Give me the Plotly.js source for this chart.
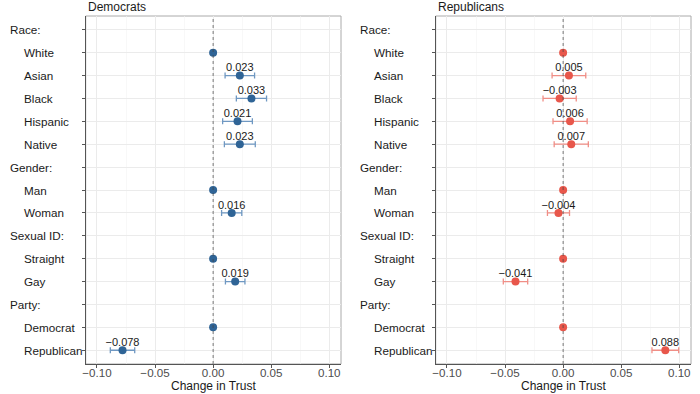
<!DOCTYPE html>
<html>
<head>
<meta charset="utf-8">
<script src="https://cdn.plot.ly/plotly-3.0.1.min.js"></script>
<style>html,body{margin:0;padding:0;background:#fff;}#chart{width:700px;height:394px;}</style>
</head>
<body>
<div id="chart"></div>
<script>
// ---- data ----
const rows = ["Race:", "White", "Asian", "Black", "Hispanic", "Native",
              "Gender:", "Man", "Woman",
              "Sexual ID:", "Straight", "Gay",
              "Party:", "Democrat", "Republican"];
const isHeader = [true, false, false, false, false, false,
                  true, false, false,
                  true, false, false,
                  true, false, false];
const demEst = [null, 0, 0.023, 0.033, 0.021, 0.023, null, 0, 0.016, null, 0, 0.019, null, 0, -0.078];
const demErr = [null, null, 0.0127, 0.013, 0.0128, 0.0133, null, null, 0.0087, null, null, 0.0084, null, null, 0.0105];
const repEst = [null, 0, 0.005, -0.003, 0.006, 0.007, null, 0, -0.004, null, 0, -0.041, null, 0, 0.088];
const repErr = [null, null, 0.0145, 0.0143, 0.0147, 0.0147, null, null, 0.0095, null, null, 0.0105, null, null, 0.0115];
const panelTitles = ["Democrats", "Republicans"];
const xTickVals = [-0.10, -0.05, 0.00, 0.05, 0.10];
const xTitle = "Change in Trust";

// ---- styling ----
const FONT = "Liberation Sans, Arial, sans-serif";
const demPoint = "#2f6496", demBar = "#6f98c2";
const repPoint = "#e8574b", repBar = "#f08e86";
const W = 700, H = 394;
const yIdx = rows.map((r, i) => i);

function fmt(v) {
  const s = Math.abs(v).toFixed(3);
  return (v < 0 ? "\u2212" : "") + s;
}

function pointTrace(est, err, xa, ya, pc, bc) {
  const xs = [], ys = [], es = [], tx = [];
  est.forEach((v, i) => {
    if (v === null) return;
    xs.push(v); ys.push(i);
    es.push(err[i] === null ? 0 : err[i]);
    tx.push(err[i] === null ? "" : fmt(v));
  });
  return [{
    type: "scatter", mode: "markers", x: xs, y: ys, xaxis: xa, yaxis: ya,
    marker: {color: pc, size: 8},
    error_x: {type: "data", array: es, visible: true, color: bc, thickness: 1.3, width: 3},
    hoverinfo: "skip", showlegend: false
  }, {
    type: "scatter", mode: "text", x: xs, y: ys.map(y => y - 0.31), xaxis: xa, yaxis: ya,
    text: tx, textposition: "middle center",
    textfont: {family: FONT, size: 11, color: "#1a1a1a"},
    hoverinfo: "skip", showlegend: false
  }];
}

const data = [
  ...pointTrace(demEst, demErr, "x", "y", demPoint, demBar),
  ...pointTrace(repEst, repErr, "x2", "y2", repPoint, repBar)
];

const dom1 = [85.7 / W, 341 / W];
const dom2 = [435.7 / W, 691 / W];
const ydom = [1 - 364 / H, 1 - 16 / H];

function xAxis(dom, anchor) {
  return {
    domain: dom, anchor: anchor, range: [-0.1097, 0.1101],
    tickvals: xTickVals, tickformat: ".2f",
    showgrid: true, gridcolor: "#ebebeb", gridwidth: 1,
    minor: {dtick: 0.025, tick0: 0, showgrid: true, gridcolor: "#f4f4f4", gridwidth: 0.6},
    zeroline: false, showline: true, linecolor: "#555", linewidth: 1, mirror: false,
    ticks: "outside", ticklen: 3, tickcolor: "#555", tickwidth: 1,
    ticklabelstandoff: -5,
    tickfont: {family: FONT, size: 11.6, color: "#4d4d4d"},
    automargin: false, fixedrange: true
  };
}
function yAxis(anchor) {
  return {
    domain: ydom, anchor: anchor, range: [14.6, -0.6],
    tickvals: yIdx, showticklabels: false,
    showgrid: true, gridcolor: "#ebebeb", gridwidth: 1,
    zeroline: false, showline: true, linecolor: "#555", linewidth: 1,
    ticks: "outside", ticklen: 3, tickcolor: "#555", tickwidth: 1,
    automargin: false, fixedrange: true
  };
}

const annotations = [];
[["y", 8.3, 22.3], ["y2", 358.3, 372.3]].forEach(([ya, xh, xi]) => {
  rows.forEach((r, i) => {
    annotations.push({
      xref: "paper", yref: ya, x: (isHeader[i] ? xh : xi) / W, y: i,
      xanchor: "left", yanchor: "middle", showarrow: false, text: r,
      font: {family: FONT, size: 11.7, color: "#1a1a1a"}
    });
  });
});
[[panelTitles[0], dom1], [panelTitles[1], dom2]].forEach(([t, d]) => {
  annotations.push({
    xref: "paper", yref: "paper", x: d[0], y: 1 - 7 / H, xanchor: "left", yanchor: "middle",
    showarrow: false, text: t, font: {family: FONT, size: 12, color: "#1a1a1a"}
  });
  annotations.push({
    xref: "paper", yref: "paper", x: (d[0] + d[1]) / 2, y: 1 - 385.5 / H, xanchor: "center", yanchor: "middle",
    showarrow: false, text: xTitle, font: {family: FONT, size: 12, color: "#1a1a1a"}
  });
});

const shapes = [];
[["x", "y"], ["x2", "y2"]].forEach(([xa, ya]) => {
  shapes.push({type: "line", xref: xa, yref: ya + " domain", x0: 0, x1: 0, y0: 0, y1: 1,
    line: {color: "#444", width: 0.7, dash: "dot"}, layer: "above"});
});
// light top/right panel borders
[dom1, dom2].forEach((d) => {
  shapes.push({type: "rect", xref: "paper", yref: "paper", x0: d[0], x1: d[1], y0: ydom[0], y1: ydom[1],
    line: {color: "#aaaaaa", width: 1}, layer: "below"});
});

const layout = {
  width: W, height: H,
  margin: {l: 0, r: 0, t: 0, b: 0},
  paper_bgcolor: "#fff", plot_bgcolor: "#fff",
  font: {family: FONT},
  xaxis: xAxis(dom1, "y"), yaxis: yAxis("x"),
  xaxis2: xAxis(dom2, "y2"), yaxis2: yAxis("x2"),
  annotations: annotations, shapes: shapes, showlegend: false
};

Plotly.newPlot("chart", data, layout, {displayModeBar: false, staticPlot: true});
</script>
</body>
</html>
